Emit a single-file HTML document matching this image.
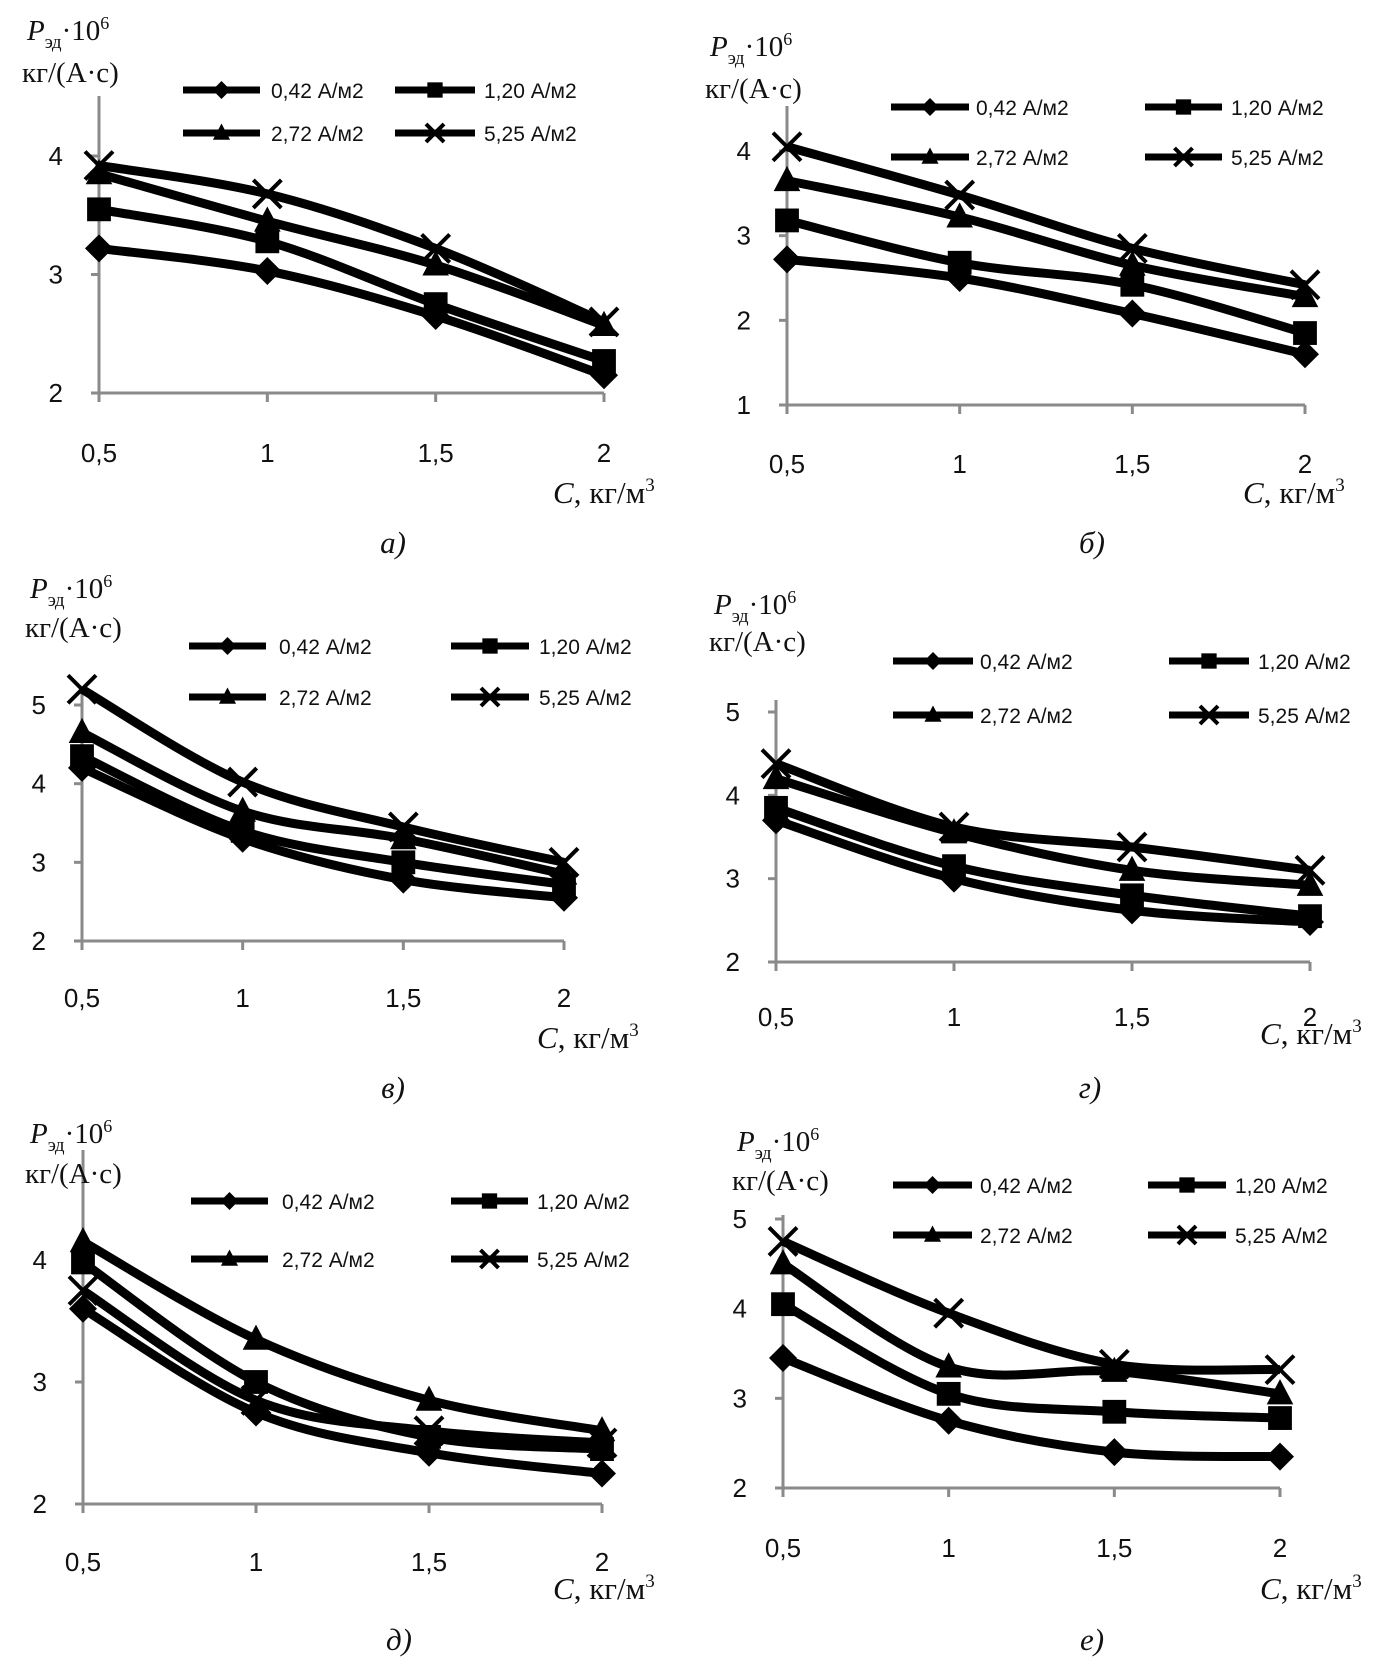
<!DOCTYPE html>
<html><head><meta charset="utf-8">
<style>
html,body{margin:0;padding:0;background:#fff;}
svg{display:block;}
.tick{font-family:"Liberation Sans",sans-serif;font-size:26px;fill:#111;}
.leg{font-family:"Liberation Sans",sans-serif;font-size:21px;fill:#111;}
.ser{font-family:"Liberation Serif",serif;fill:#111;}
</style></head>
<body>
<svg id="fig" width="1393" height="1663" viewBox="0 0 1393 1663" xmlns="http://www.w3.org/2000/svg"></svg>
<script>
const categories = [0.5, 1, 1.5, 2];
const categoryLabels = ["0,5", "1", "1,5", "2"];
const seriesNames = ["0,42 А/м2", "1,20 А/м2", "2,72  А/м2", "5,25  А/м2"];
const markers = ["diamond", "square", "triangle", "cross"];
const panelA_s1 = [3.22, 3.03, 2.65, 2.15];
const panelA_s2 = [3.55, 3.28, 2.75, 2.27];
const panelA_s3 = [3.85, 3.45, 3.08, 2.57];
const panelA_s4 = [3.92, 3.68, 3.22, 2.60];
const panelB_s1 = [2.72, 2.50, 2.08, 1.60];
const panelB_s2 = [3.18, 2.68, 2.42, 1.85];
const panelB_s3 = [3.65, 3.22, 2.65, 2.28];
const panelB_s4 = [4.05, 3.48, 2.85, 2.42];
const panelV_s1 = [4.20, 3.30, 2.78, 2.55];
const panelV_s2 = [4.35, 3.40, 3.00, 2.72];
const panelV_s3 = [4.65, 3.65, 3.30, 2.85];
const panelV_s4 = [5.20, 4.02, 3.45, 3.00];
const panelG_s1 = [3.70, 3.00, 2.62, 2.48];
const panelG_s2 = [3.85, 3.15, 2.80, 2.55];
const panelG_s3 = [4.20, 3.55, 3.10, 2.92];
const panelG_s4 = [4.38, 3.62, 3.38, 3.10];
const panelD_s1 = [3.60, 2.75, 2.42, 2.25];
const panelD_s2 = [3.98, 3.00, 2.55, 2.45];
const panelD_s3 = [4.15, 3.35, 2.85, 2.60];
const panelD_s4 = [3.75, 2.85, 2.60, 2.50];
const panelE_s1 = [3.45, 2.75, 2.40, 2.35];
const panelE_s2 = [4.05, 3.05, 2.85, 2.78];
const panelE_s3 = [4.50, 3.35, 3.30, 3.05];
const panelE_s4 = [4.75, 3.95, 3.38, 3.32];
const yTicksA = [2, 3, 4];
const yTicksB = [1, 2, 3, 4];
const yTicksV = [2, 3, 4, 5];
const yTicksG = [2, 3, 4, 5];
const yTicksD = [2, 3, 4];
const yTicksE = [2, 3, 4, 5];

const NS = "http://www.w3.org/2000/svg";
const fig = document.getElementById("fig");
function mk(tag, attrs, parent) {
  const e = document.createElementNS(NS, tag);
  for (const k in attrs) e.setAttribute(k, attrs[k]);
  (parent || fig).appendChild(e);
  return e;
}

const panels = [
  {id:"a", letter:"а)", data:[panelA_s1,panelA_s2,panelA_s3,panelA_s4], yt:yTicksA,
   x0:99, x1:604, yLo:2, yLoPx:393, yHi:4, yHiPx:156, top:96,
   tx:27, ty1:40, ty2:82, legY:[90,133], l1:[183,260], t1:271, l2:[395,475], t2:484,
   xlY:462, cX:553, cY:503, capX:393, capY:553},
  {id:"b", letter:"б)", data:[panelB_s1,panelB_s2,panelB_s3,panelB_s4], yt:yTicksB,
   x0:787, x1:1305, yLo:1, yLoPx:405, yHi:4, yHiPx:151, top:106,
   tx:710, ty1:56, ty2:98, legY:[107,157], l1:[891,969], t1:976, l2:[1145,1222], t2:1231,
   xlY:473, cX:1243, cY:503, capX:1092, capY:553},
  {id:"v", letter:"в)", data:[panelV_s1,panelV_s2,panelV_s3,panelV_s4], yt:yTicksV,
   x0:82, x1:564, yLo:2, yLoPx:941, yHi:5, yHiPx:705, top:690,
   tx:30, ty1:598, ty2:637, legY:[646,697], l1:[189,266], t1:279, l2:[451,529], t2:539,
   xlY:1007, cX:537, cY:1048, capX:393, capY:1098},
  {id:"g", letter:"г)", data:[panelG_s1,panelG_s2,panelG_s3,panelG_s4], yt:yTicksG,
   x0:776, x1:1310, yLo:2, yLoPx:962, yHi:5, yHiPx:712, top:700,
   tx:714, ty1:614, ty2:651, legY:[661,715], l1:[893,973], t1:980, l2:[1169,1249], t2:1258,
   xlY:1026, cX:1260, cY:1044, capX:1090, capY:1098},
  {id:"d", letter:"д)", data:[panelD_s1,panelD_s2,panelD_s3,panelD_s4], yt:yTicksD,
   x0:83, x1:602, yLo:2, yLoPx:1504, yHi:4, yHiPx:1260, top:1150,
   tx:30, ty1:1143, ty2:1183, legY:[1201,1259], l1:[191,268], t1:282, l2:[451,528], t2:537,
   xlY:1571, cX:553, cY:1599, capX:399, capY:1650},
  {id:"e", letter:"е)", data:[panelE_s1,panelE_s2,panelE_s3,panelE_s4], yt:yTicksE,
   x0:783, x1:1280, yLo:2, yLoPx:1488, yHi:5, yHiPx:1219, top:1215,
   tx:737, ty1:1151, ty2:1190, legY:[1185,1235], l1:[893,972], t1:980, l2:[1148,1226], t2:1235,
   xlY:1557, cX:1260, cY:1599, capX:1092, capY:1650}
];

function drawMarker(g, type, x, y, s) {
  let m;
  if (type === "diamond") m = mk("polygon", {points:`${x},${y-s} ${x+s},${y} ${x},${y+s} ${x-s},${y}`, fill:"#000"}, g);
  else if (type === "square") m = mk("rect", {x:x-s*0.85, y:y-s*0.85, width:s*1.7, height:s*1.7, fill:"#000"}, g);
  else if (type === "triangle") m = mk("polygon", {points:`${x},${y-s*1.05} ${x+s*0.95},${y+s*0.75} ${x-s*0.95},${y+s*0.75}`, fill:"#000"}, g);
  else m = mk("path", {d:`M${x-s},${y-s}L${x+s},${y+s}M${x-s},${y+s}L${x+s},${y-s}`, stroke:"#000", "stroke-width":4, fill:"none"}, g);
  return m;
}

function smoothPath(pts) {
  let d = `M${pts[0][0]},${pts[0][1]}`;
  for (let i = 0; i < pts.length - 1; i++) {
    const p0 = pts[i-1] || pts[i], p1 = pts[i], p2 = pts[i+1], p3 = pts[i+2] || p2;
    const t = 0.5/3;
    const c1 = [p1[0] + (p2[0]-p0[0])*t, p1[1] + (p2[1]-p0[1])*t];
    const c2 = [p2[0] - (p3[0]-p1[0])*t, p2[1] - (p3[1]-p1[1])*t];
    d += ` C${c1[0]},${c1[1]} ${c2[0]},${c2[1]} ${p2[0]},${p2[1]}`;
  }
  return d;
}

panels.forEach(p => {
  const g = mk("g", {});
  
  
  const xs = v => p.x0 + (v - categories[0]) / (categories[categories.length-1] - categories[0]) * (p.x1 - p.x0);
  const ys = v => p.yLoPx + (v - p.yLo) / (p.yHi - p.yLo) * (p.yHiPx - p.yLoPx);

  const ya = mk("line", {x1:p.x0, y1:p.top, x2:p.x0, y2:p.yLoPx, stroke:"#8a8a8a", "stroke-width":3}, g);
  
  
  const xa = mk("line", {x1:p.x0-8, y1:p.yLoPx, x2:p.x1, y2:p.yLoPx, stroke:"#8a8a8a", "stroke-width":3}, g);
  
  
  p.yt.forEach(v => {
    mk("line", {x1:p.x0-8, y1:ys(v), x2:p.x0, y2:ys(v), stroke:"#8a8a8a", "stroke-width":3}, g);
    const t = mk("text", {x:p.x0-36, y:ys(v)+9, "text-anchor":"end", class:"tick"}, g);
    t.textContent = String(v);
    
    
  });
  categories.forEach((c, i) => {
    mk("line", {x1:xs(c), y1:p.yLoPx, x2:xs(c), y2:p.yLoPx+9, stroke:"#8a8a8a", "stroke-width":3}, g);
    const t = mk("text", {x:xs(c), y:p.xlY, "text-anchor":"middle", class:"tick"}, g);
    t.textContent = categoryLabels[i];
    
    
  });

  p.data.forEach((vals, si) => {
    const sg = mk("g", {}, g);
    
    
    const pts = vals.map((v, i) => [xs(categories[i]), ys(v)]);
    mk("path", {d:smoothPath(pts), stroke:"#000", "stroke-width":9, fill:"none", "stroke-linejoin":"round"}, sg);
    pts.forEach(pt => {
      const m = drawMarker(sg, markers[si], pt[0], pt[1], 14);
      
      
    });
  });

  const leg = mk("g", {}, g);
  
  
  seriesNames.forEach((n, si) => {
    const row = Math.floor(si / 2), col = si % 2;
    const l = col === 0 ? p.l1 : p.l2, tx = col === 0 ? p.t1 : p.t2;
    const y = p.legY[row];
    const e = mk("g", {}, leg);
    
    
    mk("line", {x1:l[0], y1:y, x2:l[1], y2:y, stroke:"#000", "stroke-width":7}, e);
    drawMarker(e, markers[si], (l[0]+l[1])/2, y, 9);
    const t = mk("text", {x:tx, y:y+8, class:"leg"}, e);
    t.textContent = n;
  });

  const t1 = mk("text", {x:p.tx, y:p.ty1, class:"ser", "font-size":"29"}, g);
  
  
  t1.innerHTML = '<tspan font-style="italic">P</tspan><tspan font-size="19" dy="8">эд</tspan><tspan dy="-8">·10</tspan><tspan font-size="18" dy="-11">6</tspan>';
  const t2 = mk("text", {x:p.tx-5, y:p.ty2, class:"ser", "font-size":"29"}, g);
  
  
  t2.textContent = "кг/(А·с)";
  const t3 = mk("text", {x:p.cX, y:p.cY, class:"ser", "font-size":"31"}, g);
  
  
  t3.innerHTML = '<tspan font-style="italic">C</tspan>, кг/м<tspan font-size="19" dy="-12">3</tspan>';
  const t4 = mk("text", {x:p.capX, y:p.capY, class:"ser", "font-size":"31", "font-style":"italic", "text-anchor":"middle"}, g);
  
  
  t4.textContent = p.letter;
});
</script>
</body></html>
